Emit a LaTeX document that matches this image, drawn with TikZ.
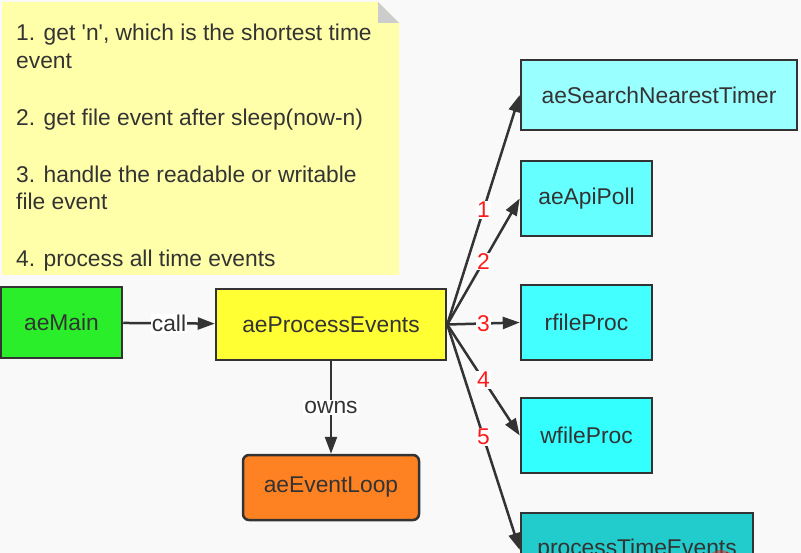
\documentclass[tikz,border=0pt]{standalone}
\usepackage{fontspec}
\newfontfamily\diagfont{Liberation Sans}
\usepackage{tikz}
\usetikzlibrary{arrows.meta, positioning}
\definecolor{inkgray}{HTML}{333333}
\definecolor{pagebg}{HTML}{F9F9F9}
\definecolor{notefill}{HTML}{FFFFAA}
\definecolor{foldgray}{HTML}{CCCCCC}
\definecolor{mainfill}{HTML}{2AEE2A}
\definecolor{procfill}{HTML}{FFFF33}
\definecolor{loopfill}{HTML}{FF8222}
\definecolor{timerfill}{HTML}{99FFFF}
\definecolor{pollfill}{HTML}{66FFFF}
\definecolor{readfill}{HTML}{44FFFF}
\definecolor{writefill}{HTML}{33FFFF}
\definecolor{timefill}{HTML}{22CCCC}
\definecolor{numred}{HTML}{FF1A1A}

\begin{document}
\begin{tikzpicture}[x=1pt, y=-1pt,
  every node/.style={font=\diagfont\fontsize{22.8}{28}\selectfont, text=inkgray},
  box/.style={draw=inkgray, line width=2.5pt, minimum height=75pt, inner sep=0pt},
  link/.style={-{Triangle[length=17pt, width=12pt]}, line width=2.5pt, draw=inkgray},
  tag/.style={fill=white, inner sep=1pt},
  num/.style={tag, text=numred}]

  \clip (0,0) rectangle (801,553);
  \fill[pagebg] (0,0) rectangle (801,553);

  % ---------- Note ----------
  \fill[notefill] (2,2) -- (378,2) -- (399,23) -- (399,275) -- (2,275) -- cycle;
  \fill[foldgray] (378,2) -- (378,23) -- (399,23) -- cycle;
  \foreach \y/\t [count=\i] in {41/{1. get 'n', which is the shortest time},
      69/{event}, 126/{2. get file event after sleep(now-n)},
      183/{3. handle the readable or writable}, 210/{file event},
      267/{4. process all time events}}{
    \node[anchor=base west, inner sep=0pt] (note\i) at (16,\y) {\t};
  }

  % ---------- Left part ----------
  \node[box, fill=mainfill, minimum width=121pt, minimum height=71pt] (aeMain) at (61.5,322.5) {aeMain};
  \node[box, fill=procfill, minimum width=230pt, minimum height=71pt] (aeProcessEvents) at (331,324.5) {aeProcessEvents};
  \node[box, fill=loopfill, rounded corners=6pt, minimum width=176pt, minimum height=65pt] (aeEventLoop) at (331,487.5) {aeEventLoop};

  \draw[link] (aeMain) -- node[tag] {call} (aeProcessEvents);
  \draw[link] (aeProcessEvents) -- node[tag] {owns} (aeEventLoop);

  % ---------- Steps ----------
  \node[box, fill=timerfill, minimum width=276pt, minimum height=70pt] (aeSearchNearestTimer) at (659,95) {aeSearchNearestTimer};
  \node[box, fill=pollfill, minimum width=131pt] (aeApiPoll) at (586.5,198.5) {aeApiPoll};
  \node[box, fill=readfill, minimum width=131pt] (rfileProc) at (586.5,322.5) {rfileProc};
  \node[box, fill=writefill, minimum width=131pt] (wfileProc) at (586.5,435.5) {wfileProc};
  \node[box, fill=timefill, minimum width=232pt, minimum height=74pt] (processTimeEvents) at (637,550) {processTimeEvents};
  \fill[numred, opacity=0.45] (721,566) circle (16);

  \foreach \t/\n in {aeSearchNearestTimer/1, aeApiPoll/2, rfileProc/3, wfileProc/4, processTimeEvents/5}
    \draw[link] (aeProcessEvents.east) -- node[num] {\n} (\t.west);
\end{tikzpicture}
\end{document}
